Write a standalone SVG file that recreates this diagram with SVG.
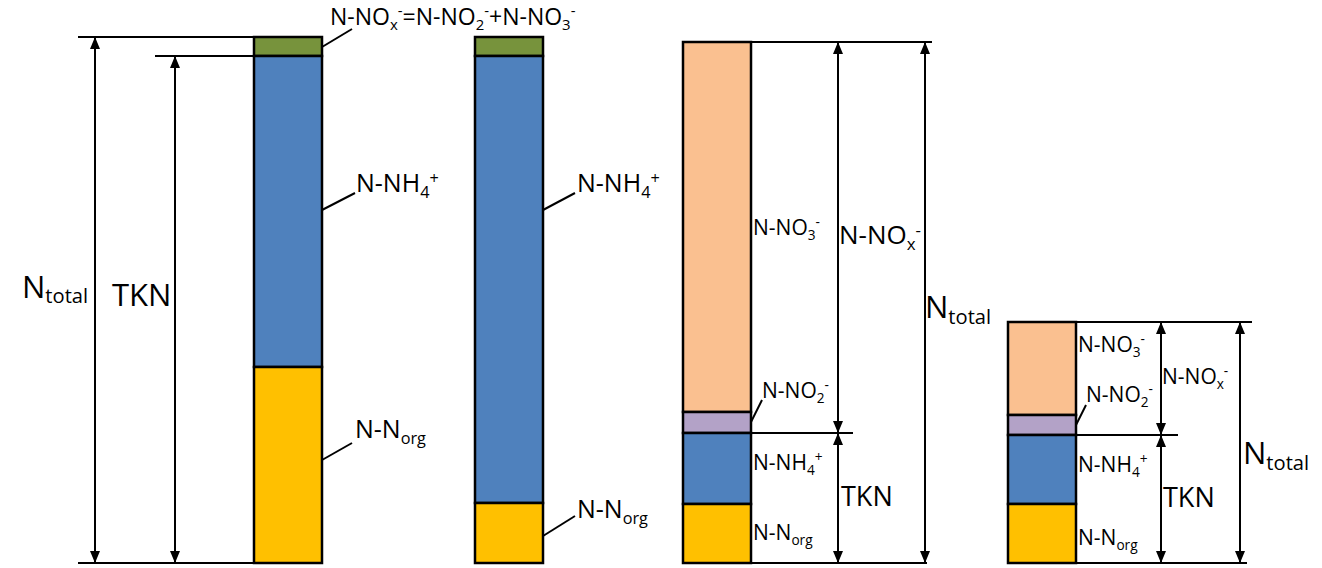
<svg xmlns="http://www.w3.org/2000/svg" width="1322" height="568" viewBox="0 0 1322 568">
<defs>
<marker id="ah" markerWidth="12" markerHeight="10" refX="11" refY="5" orient="auto-start-reverse" markerUnits="userSpaceOnUse"><path d="M0,0 L12,5 L0,10 Z" fill="#000"/></marker>
<style>
.bar{stroke:#000;stroke-width:2.5}
.g{fill:#77933C}.b{fill:#4F81BD}.y{fill:#FFC000}.o{fill:#FAC090}.p{fill:#B3A2C7}
.ln{stroke:#000;stroke-width:2;fill:none}
.ar{stroke:#000;stroke-width:2;fill:none;marker-start:url(#ah);marker-end:url(#ah)}
text{font-family:"Open Sans","DejaVu Sans",sans-serif;fill:#000}
.big{font-size:31px}.md{font-size:25px}.md2{font-size:26px}.tk{font-size:27px}.sm{font-size:21px}.tp{font-size:23px}
.sub{font-size:0.65em}
</style>
</defs>
<rect width="1322" height="568" fill="#fff"/>
<g id="bar1">
<rect class="bar g" x="254" y="37" width="68" height="19"/>
<rect class="bar b" x="254" y="56" width="68" height="311"/>
<rect class="bar y" x="254" y="367" width="68" height="196"/>
</g>
<g id="bar2">
<rect class="bar g" x="475" y="37" width="68" height="19"/>
<rect class="bar b" x="475" y="56" width="68" height="447"/>
<rect class="bar y" x="475" y="503" width="68" height="60"/>
</g>
<g id="bar3">
<rect class="bar o" x="683" y="42" width="68" height="370"/>
<rect class="bar p" x="683" y="412" width="68" height="21"/>
<rect class="bar b" x="683" y="433" width="68" height="71"/>
<rect class="bar y" x="683" y="504" width="68" height="59"/>
</g>
<g id="bar4">
<rect class="bar o" x="1008" y="322" width="68" height="93"/>
<rect class="bar p" x="1008" y="415" width="68" height="20"/>
<rect class="bar b" x="1008" y="435" width="68" height="69"/>
<rect class="bar y" x="1008" y="504" width="68" height="59"/>
</g>
<g id="connectors">
<line class="ln" x1="78" y1="37" x2="254" y2="37"/>
<line class="ln" x1="155" y1="56" x2="254" y2="56"/>
<line class="ln" x1="78" y1="563" x2="254" y2="563"/>
<line class="ar" x1="95" y1="38" x2="95" y2="562"/>
<line class="ar" x1="175" y1="57" x2="175" y2="562"/>
<line class="ln" x1="322" y1="47" x2="352" y2="29"/>
<line class="ln" x1="322" y1="210" x2="355" y2="193"/>
<line class="ln" x1="322" y1="460" x2="352" y2="443"/>
<line class="ln" x1="543" y1="210" x2="575" y2="193"/>
<line class="ln" x1="543" y1="536" x2="575" y2="516"/>
<line class="ln" x1="751" y1="42" x2="932" y2="42"/>
<line class="ln" x1="751" y1="433" x2="853" y2="433"/>
<line class="ln" x1="751" y1="563" x2="927" y2="563"/>
<line class="ar" x1="838" y1="43" x2="838" y2="432"/>
<line class="ar" x1="838" y1="434" x2="838" y2="562"/>
<line class="ar" x1="925" y1="43" x2="925" y2="562"/>
<line class="ln" x1="751" y1="422" x2="762" y2="400"/>
<line class="ln" x1="1076" y1="322" x2="1252" y2="322"/>
<line class="ln" x1="1076" y1="435" x2="1178" y2="435"/>
<line class="ln" x1="1076" y1="563" x2="1247" y2="563"/>
<line class="ar" x1="1161" y1="323" x2="1161" y2="434"/>
<line class="ar" x1="1161" y1="436" x2="1161" y2="562"/>
<line class="ar" x1="1240" y1="323" x2="1240" y2="562"/>
<line class="ln" x1="1076" y1="425" x2="1086" y2="405"/>
</g>
<g id="labels1">
<text class="big" x="22" y="298">N<tspan class="sub" dy="5">total</tspan></text>
<text class="big" x="112" y="306">TKN</text>
<text class="tp" x="330" y="25">N-NO<tspan class="sub" dy="5">x</tspan><tspan class="sub" dy="-14">-</tspan><tspan dy="9">=N-NO</tspan><tspan class="sub" dy="5">2</tspan><tspan class="sub" dy="-14">-</tspan><tspan dy="9">+N-NO</tspan><tspan class="sub" dy="5">3</tspan><tspan class="sub" dy="-14">-</tspan></text>
<text class="md" x="356" y="192">N-NH<tspan class="sub" dy="6">4</tspan><tspan class="sub" dy="-14">+</tspan></text>
<text class="md" x="355" y="438">N-N<tspan class="sub" dy="6">org</tspan></text>
<text class="md" x="577" y="192">N-NH<tspan class="sub" dy="6">4</tspan><tspan class="sub" dy="-14">+</tspan></text>
<text class="md" x="577" y="518">N-N<tspan class="sub" dy="6">org</tspan></text>
</g>
<g id="labels3">
<text class="sm" x="753" y="235">N-NO<tspan class="sub" dy="5">3</tspan><tspan class="sub" dy="-13">-</tspan></text>
<text class="md2" x="839" y="244">N-NO<tspan class="sub" dy="6">x</tspan><tspan class="sub" dy="-14">-</tspan></text>
<text class="big" x="925" y="318">N<tspan class="sub" dy="6">total</tspan></text>
<text class="sm" x="762" y="398">N-NO<tspan class="sub" dy="5">2</tspan><tspan class="sub" dy="-13">-</tspan></text>
<text class="sm" x="753" y="470">N-NH<tspan class="sub" dy="5">4</tspan><tspan class="sub" dy="-13">+</tspan></text>
<text class="tk" x="841" y="506">TKN</text>
<text class="sm" x="753" y="540">N-N<tspan class="sub" dy="5">org</tspan></text>
</g>
<g id="labels4">
<text class="sm" x="1078" y="352">N-NO<tspan class="sub" dy="5">3</tspan><tspan class="sub" dy="-13">-</tspan></text>
<text class="sm" x="1162" y="384">N-NO<tspan class="sub" dy="5">x</tspan><tspan class="sub" dy="-13">-</tspan></text>
<text class="sm" x="1086" y="402">N-NO<tspan class="sub" dy="5">2</tspan><tspan class="sub" dy="-13">-</tspan></text>
<text class="sm" x="1078" y="472">N-NH<tspan class="sub" dy="5">4</tspan><tspan class="sub" dy="-13">+</tspan></text>
<text class="tk" x="1163" y="507">TKN</text>
<text class="sm" x="1078" y="545">N-N<tspan class="sub" dy="5">org</tspan></text>
<text class="big" x="1243" y="464">N<tspan class="sub" dy="6">total</tspan></text>
</g>
</svg>
